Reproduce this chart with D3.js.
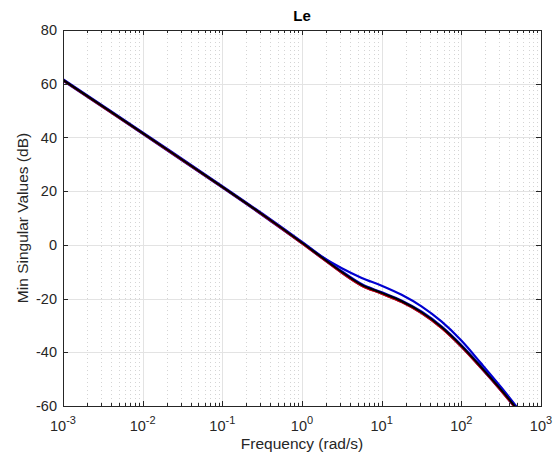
<!DOCTYPE html>
<html>
<head>
<meta charset="utf-8">
<script src="https://cdn.jsdelivr.net/npm/d3@7"></script>
<style>
  body { margin: 0; background: #fff; }
  svg { display: block; font-family: "Liberation Sans", Arial, sans-serif; }
</style>
</head>
<body>
<div id="chart"></div>
<script>
// frequencies (rad/s) and singular values (dB)
var freqs = [0.001, 0.01, 0.1, 0.316, 1, 1.78, 3.16, 5.62, 10, 17.8, 31.6, 56.2, 100, 178, 316, 562, 1000];
var upperDb = [61.4, 41.6, 21.6, 11.4, 0.9, -4.4, -8.7, -12.3, -15.2, -18.6, -22.9, -28.5, -35.6, -44.2, -53.0, -62.4, -72.0];
var lowerDb = [61.4, 41.6, 21.6, 11.4, 0.8, -4.7, -10.1, -14.9, -17.9, -21.0, -25.1, -30.6, -37.6, -45.6, -54.0, -63.0, -72.4];
var redDb   = [61.3, 41.5, 21.5, 11.3, 0.6, -4.9, -10.4, -15.2, -18.2, -21.3, -25.4, -30.9, -37.9, -45.9, -54.3, -63.3, -72.7];
var yTicks = [-60, -40, -20, 0, 20, 40, 60, 80];
var xDecades = [-3, -2, -1, 0, 1, 2, 3];

var W = 559, H = 459;
var m = { left: 63, right: 18, top: 30, bottom: 53 };
var iw = W - m.left - m.right, ih = H - m.top - m.bottom;

var svg = d3.select("#chart").append("svg").attr("width", W).attr("height", H);
var x = d3.scaleLog().domain([1e-3, 1e3]).range([0, iw]);
var y = d3.scaleLinear().domain([-60, 80]).range([ih, 0]);

var g = svg.append("g").attr("transform", "translate(" + m.left + "," + m.top + ")");

// minor ticks
var minor = [];
xDecades.slice(0, -1).forEach(function(d) {
  for (var k = 2; k <= 9; k++) minor.push(k * Math.pow(10, d));
});

// grid
g.append("g").selectAll("line").data(minor).enter().append("line")
  .attr("x1", function(d) { return Math.round(x(d)) + 0.5; })
  .attr("x2", function(d) { return Math.round(x(d)) + 0.5; })
  .attr("y1", 0).attr("y2", ih)
  .attr("stroke", "#d4d4d4").attr("stroke-dasharray", "1,3");
g.append("g").selectAll("line").data(xDecades.map(function(d) { return Math.pow(10, d); })).enter().append("line")
  .attr("x1", function(d) { return Math.round(x(d)) + 0.5; })
  .attr("x2", function(d) { return Math.round(x(d)) + 0.5; })
  .attr("y1", 0).attr("y2", ih)
  .attr("stroke", "#e3e3e3");
g.append("g").selectAll("line").data(yTicks).enter().append("line")
  .attr("x1", 0).attr("x2", iw)
  .attr("y1", function(d) { return Math.round(y(d)) + 0.5; })
  .attr("y2", function(d) { return Math.round(y(d)) + 0.5; })
  .attr("stroke", "#e3e3e3");

// curves
g.append("clipPath").attr("id", "clip").append("rect").attr("width", iw).attr("height", ih);
var line = d3.line()
  .x(function(d) { return x(d[0]); })
  .y(function(d) { return y(d[1]); })
  .curve(d3.curveCatmullRom.alpha(0.5));
var series = [
  { vals: upperDb, color: "#0000d0", w: 2.2 },
  { vals: lowerDb, color: "#0000d0", w: 3.4 },
  { vals: redDb, color: "#e00000", w: 2.2 },
  { vals: lowerDb, color: "#000000", w: 2 }
];
var plot = g.append("g").attr("clip-path", "url(#clip)");
series.forEach(function(s) {
  plot.append("path")
    .datum(freqs.map(function(f, i) { return [f, s.vals[i]]; }))
    .attr("d", line)
    .attr("fill", "none")
    .attr("stroke", s.color)
    .attr("stroke-width", s.w)
    .attr("stroke-linejoin", "round");
});

// box + ticks
var axisColor = "#262626";
g.append("rect").attr("x", 0.5).attr("y", 0.5).attr("width", iw).attr("height", ih)
  .attr("fill", "none").attr("stroke", axisColor);
var tk = g.append("g").attr("stroke", axisColor);
minor.forEach(function(d) {
  var px = Math.round(x(d)) + 0.5;
  tk.append("line").attr("x1", px).attr("x2", px).attr("y1", ih).attr("y2", ih - 3);
  tk.append("line").attr("x1", px).attr("x2", px).attr("y1", 0).attr("y2", 3);
});
xDecades.forEach(function(d) {
  var px = Math.round(x(Math.pow(10, d))) + 0.5;
  tk.append("line").attr("x1", px).attr("x2", px).attr("y1", ih).attr("y2", ih - 5);
  tk.append("line").attr("x1", px).attr("x2", px).attr("y1", 0).attr("y2", 5);
});
yTicks.forEach(function(d) {
  var py = Math.round(y(d)) + 0.5;
  tk.append("line").attr("x1", 0).attr("x2", 5).attr("y1", py).attr("y2", py);
  tk.append("line").attr("x1", iw).attr("x2", iw - 5).attr("y1", py).attr("y2", py);
});

// tick labels
g.append("g").selectAll("text").data(yTicks).enter().append("text")
  .attr("x", -6).attr("y", function(d) { return y(d); }).attr("dy", "0.35em")
  .attr("text-anchor", "end").attr("font-size", 14.5).attr("fill", axisColor)
  .text(function(d) { return d; });
var xl = g.append("g").selectAll("text").data(xDecades).enter().append("text")
  .attr("x", function(d) { return x(Math.pow(10, d)); }).attr("y", ih + 25)
  .attr("text-anchor", "middle").attr("font-size", 14.5).attr("fill", axisColor);
xl.append("tspan").text("10");
xl.append("tspan").attr("dy", -7).attr("font-size", 11).text(function(d) { return d; });

// titles
svg.append("text").attr("x", m.left + iw / 2).attr("y", 449)
  .attr("text-anchor", "middle").attr("font-size", 15.5).attr("fill", axisColor)
  .text("Frequency (rad/s)");
svg.append("text").attr("transform", "translate(28," + (m.top + ih / 2) + ") rotate(-90)")
  .attr("text-anchor", "middle").attr("font-size", 15.5).attr("fill", axisColor)
  .text("Min Singular Values (dB)");
svg.append("text").attr("x", m.left + iw / 2).attr("y", 21)
  .attr("text-anchor", "middle").attr("font-size", 15).attr("font-weight", "bold").attr("fill", "#000")
  .text("Le");
</script>
</body>
</html>
